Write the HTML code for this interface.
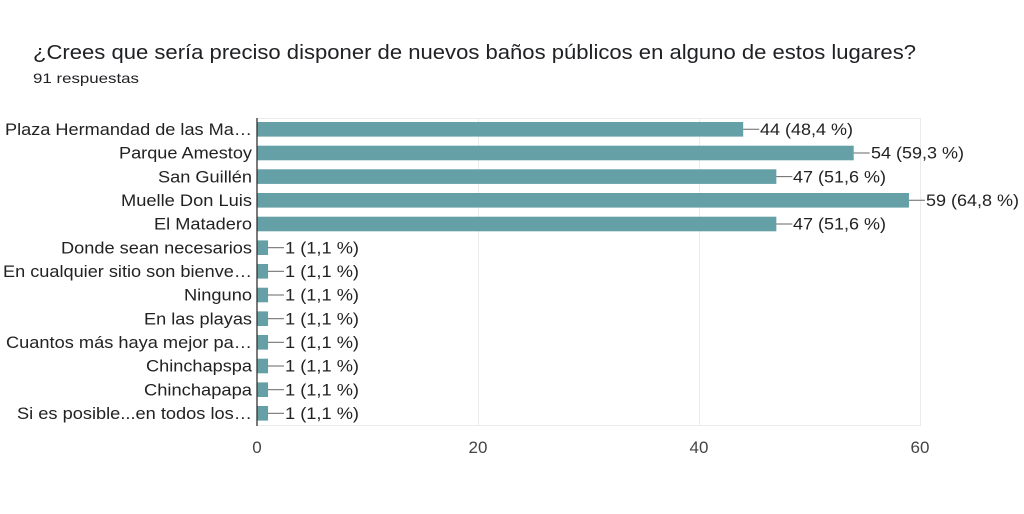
<!DOCTYPE html>
<html><head><meta charset="utf-8"><style>
html,body{margin:0;padding:0;background:#fff;}
svg{display:block;font-family:"Liberation Sans",Arial,sans-serif;}
</style></head><body>
<svg width="1024" height="514" xmlns="http://www.w3.org/2000/svg">
<rect width="1024" height="514" fill="#fff"/>
<text x="33" y="59" font-size="20" fill="#202124" textLength="883" lengthAdjust="spacingAndGlyphs">¿Crees que sería preciso disponer de nuevos baños públicos en alguno de estos lugares?</text>
<text x="33" y="83" font-size="14" fill="#202124" textLength="106" lengthAdjust="spacingAndGlyphs">91 respuestas</text>
<g stroke="#ebebeb" stroke-width="1">
<line x1="257" y1="118.5" x2="920" y2="118.5"/>
<line x1="257" y1="425.5" x2="920" y2="425.5"/>
<line x1="478.5" y1="118" x2="478.5" y2="426"/>
<line x1="699.5" y1="118" x2="699.5" y2="426"/>
<line x1="920.5" y1="118" x2="920.5" y2="426"/>
</g>
<g font-size="16.5" fill="#222" text-anchor="end" lengthAdjust="spacingAndGlyphs">
<text x="252" y="135" textLength="247" lengthAdjust="spacingAndGlyphs">Plaza Hermandad de las Ma…</text>
<text x="252" y="158.7" textLength="133" lengthAdjust="spacingAndGlyphs">Parque Amestoy</text>
<text x="252" y="182.3" textLength="94" lengthAdjust="spacingAndGlyphs">San Guillén</text>
<text x="252" y="206" textLength="131" lengthAdjust="spacingAndGlyphs">Muelle Don Luis</text>
<text x="252" y="229.7" textLength="98" lengthAdjust="spacingAndGlyphs">El Matadero</text>
<text x="252" y="253.4" textLength="191" lengthAdjust="spacingAndGlyphs">Donde sean necesarios</text>
<text x="252" y="277" textLength="249" lengthAdjust="spacingAndGlyphs">En cualquier sitio son bienve…</text>
<text x="252" y="300.7" textLength="68" lengthAdjust="spacingAndGlyphs">Ninguno</text>
<text x="252" y="324.4" textLength="108" lengthAdjust="spacingAndGlyphs">En las playas</text>
<text x="252" y="348" textLength="246" lengthAdjust="spacingAndGlyphs">Cuantos más haya mejor pa…</text>
<text x="252" y="371.7" textLength="106" lengthAdjust="spacingAndGlyphs">Chinchapspa</text>
<text x="252" y="395.4" textLength="108" lengthAdjust="spacingAndGlyphs">Chinchapapa</text>
<text x="252" y="419" textLength="235" lengthAdjust="spacingAndGlyphs">Si es posible...en todos los…</text>
</g>
<g fill="#64a0a6">
<rect x="257" y="122" width="486.2" height="14.6"/>
<rect x="257" y="145.7" width="596.7" height="14.6"/>
<rect x="257" y="169.3" width="519.35" height="14.6"/>
<rect x="257" y="193" width="651.95" height="14.6"/>
<rect x="257" y="216.7" width="519.35" height="14.6"/>
<rect x="257" y="240.4" width="11.05" height="14.6"/>
<rect x="257" y="264" width="11.05" height="14.6"/>
<rect x="257" y="287.7" width="11.05" height="14.6"/>
<rect x="257" y="311.4" width="11.05" height="14.6"/>
<rect x="257" y="335" width="11.05" height="14.6"/>
<rect x="257" y="358.7" width="11.05" height="14.6"/>
<rect x="257" y="382.4" width="11.05" height="14.6"/>
<rect x="257" y="406" width="11.05" height="14.6"/>
</g>
<g stroke="#666" stroke-width="1">
<line x1="743.2" y1="129.3" x2="759.2" y2="129.3"/>
<line x1="853.7" y1="153" x2="869.7" y2="153"/>
<line x1="776.35" y1="176.6" x2="792.35" y2="176.6"/>
<line x1="908.95" y1="200.3" x2="924.95" y2="200.3"/>
<line x1="776.35" y1="224" x2="792.35" y2="224"/>
<line x1="268" y1="247.7" x2="284" y2="247.7"/>
<line x1="268" y1="271.3" x2="284" y2="271.3"/>
<line x1="268" y1="295" x2="284" y2="295"/>
<line x1="268" y1="318.7" x2="284" y2="318.7"/>
<line x1="268" y1="342.3" x2="284" y2="342.3"/>
<line x1="268" y1="366" x2="284" y2="366"/>
<line x1="268" y1="389.7" x2="284" y2="389.7"/>
<line x1="268" y1="413.3" x2="284" y2="413.3"/>
</g>
<g font-size="16.5" fill="#222">
<text x="760" y="135" textLength="93" lengthAdjust="spacingAndGlyphs">44 (48,4 %)</text>
<text x="871" y="158.7" textLength="93" lengthAdjust="spacingAndGlyphs">54 (59,3 %)</text>
<text x="793" y="182.3" textLength="93" lengthAdjust="spacingAndGlyphs">47 (51,6 %)</text>
<text x="926" y="206" textLength="93" lengthAdjust="spacingAndGlyphs">59 (64,8 %)</text>
<text x="793" y="229.7" textLength="93" lengthAdjust="spacingAndGlyphs">47 (51,6 %)</text>
<text x="285" y="253.4" textLength="74" lengthAdjust="spacingAndGlyphs">1 (1,1 %)</text>
<text x="285" y="277" textLength="74" lengthAdjust="spacingAndGlyphs">1 (1,1 %)</text>
<text x="285" y="300.7" textLength="74" lengthAdjust="spacingAndGlyphs">1 (1,1 %)</text>
<text x="285" y="324.4" textLength="74" lengthAdjust="spacingAndGlyphs">1 (1,1 %)</text>
<text x="285" y="348" textLength="74" lengthAdjust="spacingAndGlyphs">1 (1,1 %)</text>
<text x="285" y="371.7" textLength="74" lengthAdjust="spacingAndGlyphs">1 (1,1 %)</text>
<text x="285" y="395.4" textLength="74" lengthAdjust="spacingAndGlyphs">1 (1,1 %)</text>
<text x="285" y="419" textLength="74" lengthAdjust="spacingAndGlyphs">1 (1,1 %)</text>
</g>
<line x1="257" y1="118" x2="257" y2="426" stroke="#333" stroke-width="1.3"/>
<g font-size="17" fill="#444" text-anchor="middle">
<text x="257" y="453">0</text><text x="478" y="453">20</text><text x="699" y="453">40</text><text x="920" y="453">60</text>
</g>
</svg>
</body></html>
